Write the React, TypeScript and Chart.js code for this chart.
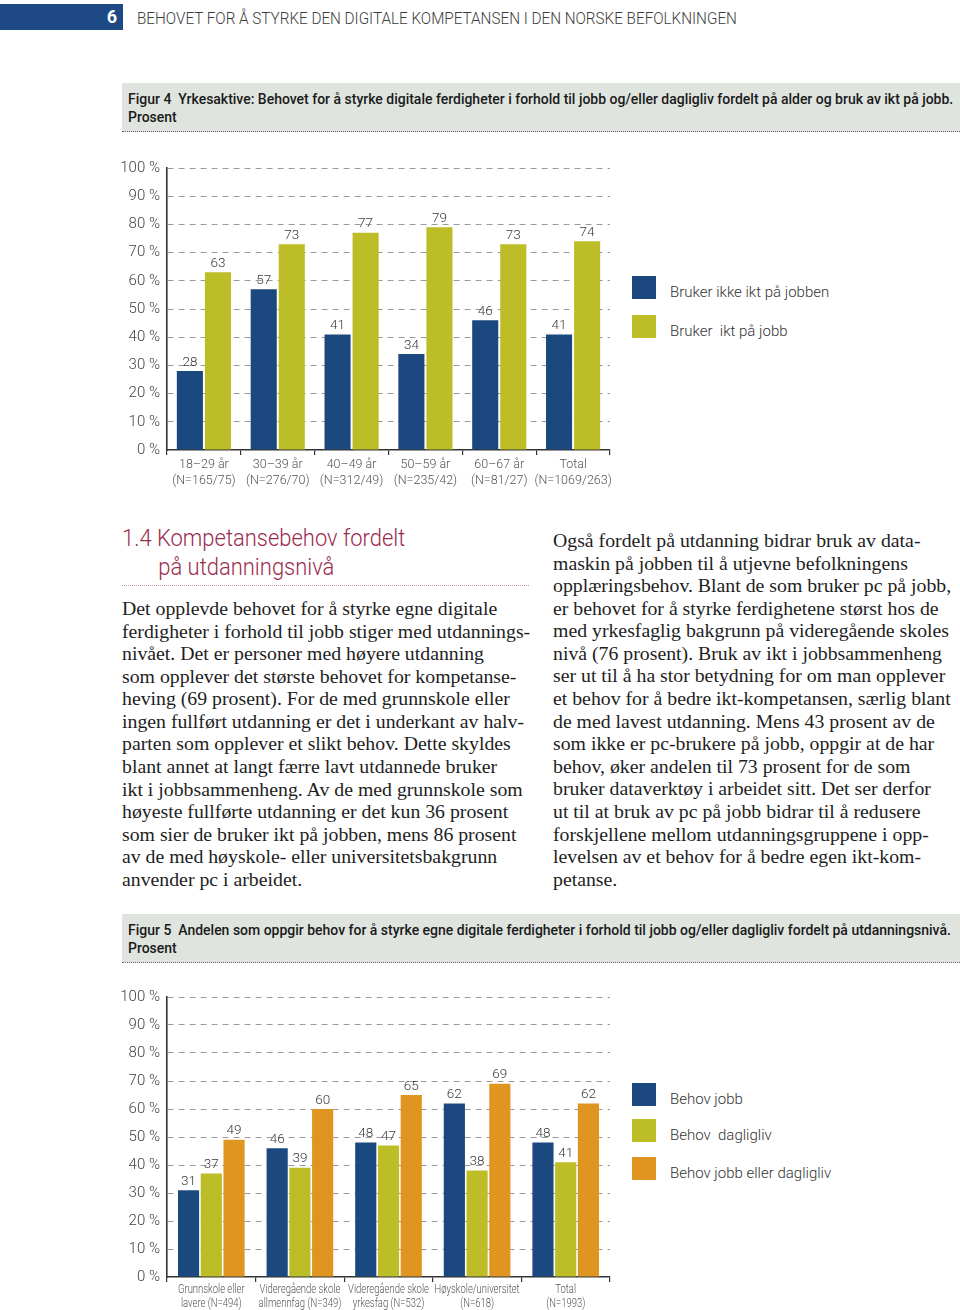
import React, { useEffect, useRef } from "react";
import { Chart, registerables } from "chart.js";

Chart.register(...registerables);

// ---------- DATA ----------
const ageCategories: string[][] = [
  ["18–29 år", "(N=165/75)"],
  ["30–39 år", "(N=276/70)"],
  ["40–49 år", "(N=312/49)"],
  ["50–59 år", "(N=235/42)"],
  ["60–67 år", "(N=81/27)"],
  ["Total", "(N=1069/263)"],
];
const noIctAtWork = [28, 57, 41, 34, 46, 41];
const ictAtWork = [63, 73, 77, 79, 73, 74];
const fig4Series = ["Bruker ikke ikt på jobben", "Bruker  ikt på jobb"];

const eduCategories: string[][] = [
  ["Grunnskole eller", "lavere (N=494)"],
  ["Videregående skole", "allmennfag (N=349)"],
  ["Videregående skole", "yrkesfag (N=532)"],
  ["Høyskole/universitet", "(N=618)"],
  ["Total", "(N=1993)"],
];
const needJob = [31, 46, 48, 62, 48];
const needDaily = [37, 39, 47, 38, 41];
const needJobOrDaily = [49, 60, 65, 69, 62];
const fig5Series = ["Behov jobb", "Behov  dagligliv", "Behov jobb eller dagligliv"];

const yTickValues = [0, 10, 20, 30, 40, 50, 60, 70, 80, 90, 100];

const BLUE = "#1b497f";
const OLIVE = "#bdbe27";
const ORANGE = "#df951f";

const leftText = [
  "Det opplevde behovet for å styrke egne digitale",
  "ferdigheter i forhold til jobb stiger med utdannings-",
  "nivået. Det er personer med høyere utdanning",
  "som opplever det største behovet for kompetanse-",
  "heving (69 prosent). For de med grunnskole eller",
  "ingen fullført utdanning er det i underkant av halv-",
  "parten som opplever et slikt behov. Dette skyldes",
  "blant annet at langt færre lavt utdannede bruker",
  "ikt i jobbsammenheng. Av de med grunnskole som",
  "høyeste fullførte utdanning er det kun 36 prosent",
  "som sier de bruker ikt på jobben, mens 86 prosent",
  "av de med høyskole- eller universitetsbakgrunn",
  "anvender pc i arbeidet.",
];
const rightText = [
  "Også fordelt på utdanning bidrar bruk av data-",
  "maskin på jobben til å utjevne befolkningens",
  "opplæringsbehov. Blant de som bruker pc på jobb,",
  "er behovet for å styrke ferdighetene størst hos de",
  "med yrkesfaglig bakgrunn på videregående skoles",
  "nivå (76 prosent). Bruk av ikt i jobbsammenheng",
  "ser ut til å ha stor betydning for om man opplever",
  "et behov for å bedre ikt-kompetansen, særlig blant",
  "de med lavest utdanning. Mens 43 prosent av de",
  "som ikke er pc-brukere på jobb, oppgir at de har",
  "behov, øker andelen til 73 prosent for de som",
  "bruker dataverktøy i arbeidet sitt. Det ser derfor",
  "ut til at bruk av pc på jobb bidrar til å redusere",
  "forskjellene mellom utdanningsgruppene i opp-",
  "levelsen av et behov for å bedre egen ikt-kom-",
  "petanse.",
];

// ---------- CHART HELPERS ----------
const FONT = "Roboto, 'Open Sans', sans-serif";

const valueLabels = {
  id: "valueLabels",
  afterDatasetsDraw(chart: any) {
    const ctx = chart.ctx;
    ctx.save();
    ctx.font = `300 13.5px ${FONT}`;
    ctx.fillStyle = "#3a3a3a";
    ctx.textAlign = "center";
    ctx.textBaseline = "bottom";
    chart.data.datasets.forEach((ds: any, i: number) => {
      const meta = chart.getDatasetMeta(i);
      meta.data.forEach((bar: any, j: number) => {
        ctx.fillText(String(ds.data[j]), bar.x, bar.y - 2);
      });
    });
    ctx.restore();
  },
};

// draws the category labels of the x scale in a narrowed (condensed) form
const condensedXLabels = {
  id: "condensedXLabels",
  afterDraw(chart: any, _args: any, opts: any) {
    if (!opts || !opts.enabled) return;
    const xs = chart.scales.x;
    const ctx = chart.ctx;
    ctx.save();
    ctx.font = `300 ${opts.size}px ${FONT}`;
    ctx.fillStyle = "#555";
    ctx.textAlign = "center";
    ctx.textBaseline = "middle";
    (chart.data.labels as string[][]).forEach((lines, i) => {
      const x = xs.getPixelForValue(i);
      lines.forEach((line, k) => {
        ctx.save();
        ctx.translate(x, xs.top + opts.first + k * opts.gap);
        ctx.scale(opts.stretch, 1);
        ctx.fillText(line, 0, 0);
        ctx.restore();
      });
    });
    ctx.restore();
  },
};

function makeConfig(
  labels: string[][],
  datasets: { data: number[]; color: string; label: string }[],
  xFontSize: number,
  xLineHeight: number,
  xAxisHeight: number,
  catPct: number,
  barPct: number,
  condensed: boolean
): any {
  return {
    type: "bar",
    data: {
      labels,
      datasets: datasets.map((d) => ({
        label: d.label,
        data: d.data,
        backgroundColor: d.color,
        borderWidth: 0,
        categoryPercentage: catPct,
        barPercentage: barPct,
      })),
    },
    plugins: [valueLabels, condensedXLabels],
    options: {
      animation: false,
      responsive: false,
      maintainAspectRatio: false,
      layout: { padding: { top: 16, right: 5, left: 0, bottom: 0 } },
      plugins: {
        legend: { display: false },
        tooltip: { enabled: false },
        condensedXLabels: { enabled: condensed, size: 12.3, first: 13, gap: 14, stretch: 0.77 },
      },
      scales: {
        x: {
          offset: true,
          grid: {
            display: true,
            offset: true,
            drawOnChartArea: false,
            drawTicks: true,
            tickLength: 5,
            color: "#333",
            lineWidth: 1.2,
          },
          border: { display: true, color: "#333", width: 1.6 },
          ticks: {
            display: !condensed,
            color: "#555",
            font: { family: FONT, size: xFontSize, weight: 300, lineHeight: xLineHeight },
            padding: 2,
            maxRotation: 0,
            autoSkip: false,
          },
          afterFit: (s: any) => {
            s.height = xAxisHeight;
          },
        },
        y: {
          min: 0,
          max: 100,
          afterBuildTicks: (s: any) => {
            s.ticks = yTickValues.map((v) => ({ value: v }));
          },
          grid: {
            drawTicks: false,
            color: (c: any) => (c.tick && c.tick.value === 0 ? "rgba(0,0,0,0)" : "#9a9a9a"),
            lineWidth: 1,
          },
          border: { display: true, color: "#333", width: 1.6, dash: [6, 5] },
          ticks: {
            color: "#444",
            font: { family: FONT, size: 15, weight: 300 },
            padding: 7,
            callback: (v: any) => `${v} %`,
          },
          afterFit: (s: any) => {
            s.width = 52;
          },
        },
      },
    },
  };
}

function BarChart(props: { config: any; width: number; height: number; style: React.CSSProperties }) {
  const ref = useRef<HTMLCanvasElement | null>(null);
  useEffect(() => {
    if (!ref.current) return;
    const chart = new Chart(ref.current, props.config);
    return () => chart.destroy();
  }, []);
  return (
    <canvas
      ref={ref}
      width={props.width}
      height={props.height}
      style={{ position: "absolute", width: props.width, height: props.height, ...props.style }}
    />
  );
}

function Legend(props: { items: string[]; colors: string[]; tops: number[] }) {
  return (
    <>
      {props.items.map((t, i) => (
        <React.Fragment key={i}>
          <div
            style={{
              position: "absolute",
              left: 632,
              top: props.tops[i],
              width: 24,
              height: 23,
              background: props.colors[i],
            }}
          />
          <div
            style={{
              position: "absolute",
              left: 670,
              top: props.tops[i] + 5,
              height: 22,
              lineHeight: "22px",
              fontFamily: FONT,
              fontWeight: 300,
              fontSize: 15,
              color: "#333",
              whiteSpace: "pre",
            }}
          >
            {t}
          </div>
        </React.Fragment>
      ))}
    </>
  );
}

function Caption(props: { top: number; line1: string }) {
  return (
    <div
      style={{
        position: "absolute",
        left: 122,
        top: props.top,
        width: 838,
        height: 49,
        background: "#dfe4df",
        borderBottom: "1.5px dotted #666",
        boxSizing: "border-box",
      }}
    >
      <div
        style={{
          position: "absolute",
          left: 6,
          top: 8,
          fontFamily: FONT,
          fontWeight: 500,
          fontSize: 15,
          lineHeight: "17.5px",
          color: "#1a1a1a",
          whiteSpace: "pre",
          transform: "scaleX(0.932)",
          transformOrigin: "0 0",
        }}
      >
        {props.line1}
        {"\n"}Prosent
      </div>
    </div>
  );
}

function TextColumn(props: { lines: string[]; left: number; top: number }) {
  return (
    <div
      style={{
        position: "absolute",
        left: props.left,
        top: props.top,
        fontFamily: "'Liberation Serif', 'Times New Roman', serif",
        fontSize: 19.8,
        lineHeight: "22.58px",
        color: "#1e1e1e",
        whiteSpace: "nowrap",
      }}
    >
      {props.lines.map((l, i) => (
        <div key={i}>{l}</div>
      ))}
    </div>
  );
}

export default function App() {
  const cfg1 = makeConfig(
    ageCategories,
    [
      { data: noIctAtWork, color: BLUE, label: fig4Series[0] },
      { data: ictAtWork, color: OLIVE, label: fig4Series[1] },
    ],
    12.5,
    1.28,
    42,
    0.76,
    0.93,
    false
  );
  const cfg2 = makeConfig(
    eduCategories,
    [
      { data: needJob, color: BLUE, label: fig5Series[0] },
      { data: needDaily, color: OLIVE, label: fig5Series[1] },
      { data: needJobOrDaily, color: ORANGE, label: fig5Series[2] },
    ],
    11.5,
    1.22,
    34,
    0.77,
    0.93,
    true
  );

  return (
    <div
      style={{
        position: "absolute",
        left: 0,
        top: 0,
        width: 960,
        height: 1310,
        background: "#fff",
        overflow: "hidden",
      }}
    >
      {/* page header */}
      <div style={{ position: "absolute", left: 0, top: 4, width: 123, height: 26, background: "#1d4a84" }} />
      <div
        style={{
          position: "absolute",
          left: 100,
          top: 4,
          width: 17,
          height: 26,
          lineHeight: "26px",
          textAlign: "right",
          color: "#fff",
          fontFamily: FONT,
          fontWeight: 700,
          fontSize: 18,
        }}
      >
        6
      </div>
      <div
        style={{
          position: "absolute",
          left: 137,
          top: 6,
          lineHeight: "24px",
          fontFamily: FONT,
          fontWeight: 300,
          fontSize: 17,
          color: "#3c3c3c",
          whiteSpace: "nowrap",
          transform: "scaleX(0.897)",
          transformOrigin: "0 0",
        }}
      >
        BEHOVET FOR Å STYRKE DEN DIGITALE KOMPETANSEN I DEN NORSKE BEFOLKNINGEN
      </div>

      {/* Figure 4 */}
      <Caption
        top={83}
        line1={"Figur 4  Yrkesaktive: Behovet for å styrke digitale ferdigheter i forhold til jobb og/eller dagligliv fordelt på alder og bruk av ikt på jobb."}
      />
      <BarChart config={cfg1} width={500} height={340} style={{ left: 115, top: 152 }} />
      <Legend items={fig4Series} colors={[BLUE, OLIVE]} tops={[276, 315]} />

      {/* Section heading */}
      <div
        style={{
          position: "absolute",
          left: 122,
          top: 524,
          fontFamily: FONT,
          fontWeight: 300,
          fontSize: 23,
          lineHeight: "29px",
          color: "#9a2c4b",
          whiteSpace: "pre",
          transform: "scaleX(0.955)",
          transformOrigin: "0 0",
        }}
      >
        {"1.4 Kompetansebehov fordelt"}
        {"\n"}
        <span style={{ paddingLeft: 38 }}>på utdanningsnivå</span>
      </div>
      <div
        style={{
          position: "absolute",
          left: 122,
          top: 585,
          width: 407,
          height: 0,
          borderTop: "1.5px dotted #c59aa6",
        }}
      />

      <TextColumn lines={leftText} left={122} top={597} />
      <TextColumn lines={rightText} left={553} top={529} />

      {/* Figure 5 */}
      <Caption
        top={914}
        line1={"Figur 5  Andelen som oppgir behov for å styrke egne digitale ferdigheter i forhold til jobb og/eller dagligliv fordelt på utdanningsnivå."}
      />
      <BarChart config={cfg2} width={500} height={330} style={{ left: 115, top: 981 }} />
      <Legend items={fig5Series} colors={[BLUE, OLIVE, ORANGE]} tops={[1083, 1119, 1157]} />
    </div>
  );
}
